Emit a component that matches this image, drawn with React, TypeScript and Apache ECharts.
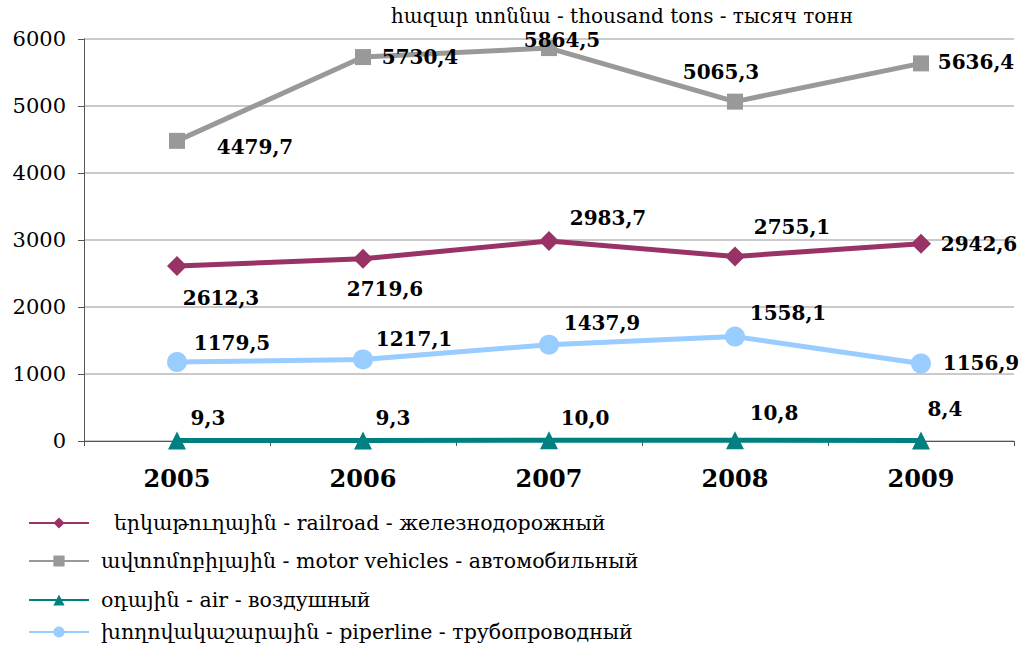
import React, { useEffect, useRef } from "react";
import * as echarts from "echarts";

const years = ["2005", "2006", "2007", "2008", "2009"];
const railroad = [2612.3, 2719.6, 2983.7, 2755.1, 2942.6];
const motor = [4479.7, 5730.4, 5864.5, 5065.3, 5636.4];
const air = [9.3, 9.3, 10.0, 10.8, 8.4];
const pipeline = [1179.5, 1217.1, 1437.9, 1558.1, 1156.9];

const seriesNames = [
  "երկաթուղային - railroad - железнодорожный",
  "ավտոմոբիլային - motor vehicles - автомобильный",
  "օդային - air - воздушный",
  "խողովակաշարային - piperline - трубопроводный",
];
const titleText = "հազար տոննա - thousand tons - тысяч тонн";

const FONT = "DejaVu Serif, serif";

// label offsets relative to the marker centre
const railOffsets = [[44, 32], [22, 30], [59, -23], [57, -29], [58, 0]];
const motorOffsets = [[78, 6], [57, 0], [13, -8], [-14, -30], [55, -1]];
const airOffsets = [[31, -22], [30, -22], [36, -22], [39, -27], [24, -31]];
const pipeOffsets = [[55, -19], [51, -20], [53, -22], [53, -24], [60, 0]];

const legendTops = [511, 549, 588, 620];
const legendPads = [20, 7, 7, 7];

const fmt = (v: number) => v.toFixed(1).replace(".", ",");

function mkData(vals: number[], offs: number[][]) {
  return vals.map((v, i) => ({
    value: v,
    label: { offset: offs[i] },
  }));
}

export default function App() {
  const ref = useRef<HTMLDivElement>(null);
  useEffect(() => {
    const chart = echarts.init(ref.current!, undefined, { renderer: "svg" });
    const labelBase = {
      show: true,
      position: "inside",
      fontFamily: FONT,
      fontWeight: "bold",
      fontSize: 20,
      color: "#000",
      formatter: (p: any) => fmt(p.value),
    };
    chart.setOption({
      animation: false,
      backgroundColor: "#fff",
      title: {
        text: titleText,
        left: 617,
        top: 1,
        textAlign: "center",
        textStyle: { fontFamily: FONT, fontSize: 20, fontWeight: "normal", color: "#000" },
      },
      legend: seriesNames.map((n, i) => ({
        orient: "vertical",
        left: 28,
        top: legendTops[i],
        padding: 0,
        itemWidth: 60,
        itemHeight: 14,
        textStyle: {
          fontFamily: FONT,
          fontSize: 20.5,
          lineHeight: 24,
          color: "#000",
          padding: [0, 0, 0, legendPads[i]],
        },
        data: [n],
      })),
      grid: { left: 84, right: 7, top: 39, bottom: 205, containLabel: false },
      xAxis: {
        type: "category",
        data: years,
        boundaryGap: true,
        axisLine: { lineStyle: { color: "#555", width: 1 } },
        axisTick: { show: true, alignWithLabel: false, length: 5, lineStyle: { color: "#555" } },
        axisLabel: { fontFamily: FONT, fontSize: 24, fontWeight: "bold", color: "#000", margin: 25 },
      },
      yAxis: {
        type: "value",
        min: 0,
        max: 6000,
        interval: 1000,
        axisLine: { show: true, lineStyle: { color: "#555", width: 1 } },
        axisTick: { show: true, length: 6, lineStyle: { color: "#555" } },
        axisLabel: {
          fontFamily: FONT,
          fontSize: 21,
          color: "#000",
          margin: 18,
          formatter: (v: number) => String(v),
        },
        splitLine: { lineStyle: { color: "#B8B8B8", width: 1.5 } },
      },
      series: [
        {
          name: seriesNames[0],
          type: "line",
          data: mkData(railroad, railOffsets),
          symbol: "diamond",
          symbolSize: 20,
          lineStyle: { width: 5, color: "#993366" },
          itemStyle: { color: "#993366" },
          label: labelBase,
          z: 3,
        },
        {
          name: seriesNames[1],
          type: "line",
          data: mkData(motor, motorOffsets),
          symbol: "rect",
          symbolSize: 16,
          lineStyle: { width: 5, color: "#999999" },
          itemStyle: { color: "#999999" },
          label: labelBase,
          z: 3,
        },
        {
          name: seriesNames[2],
          type: "line",
          data: mkData(air, airOffsets),
          symbol: "triangle",
          symbolSize: 18,
          lineStyle: { width: 5, color: "#008080" },
          itemStyle: { color: "#008080" },
          label: labelBase,
          z: 4,
        },
        {
          name: seriesNames[3],
          type: "line",
          data: mkData(pipeline, pipeOffsets),
          symbol: "circle",
          symbolSize: 20,
          lineStyle: { width: 5, color: "#99CCFF" },
          itemStyle: { color: "#99CCFF" },
          label: labelBase,
          z: 3,
        },
      ],
    });
    return () => chart.dispose();
  }, []);
  return (
    <div
      ref={ref}
      style={{ position: "fixed", left: 0, top: 0, width: 1021, height: 646 }}
    />
  );
}
